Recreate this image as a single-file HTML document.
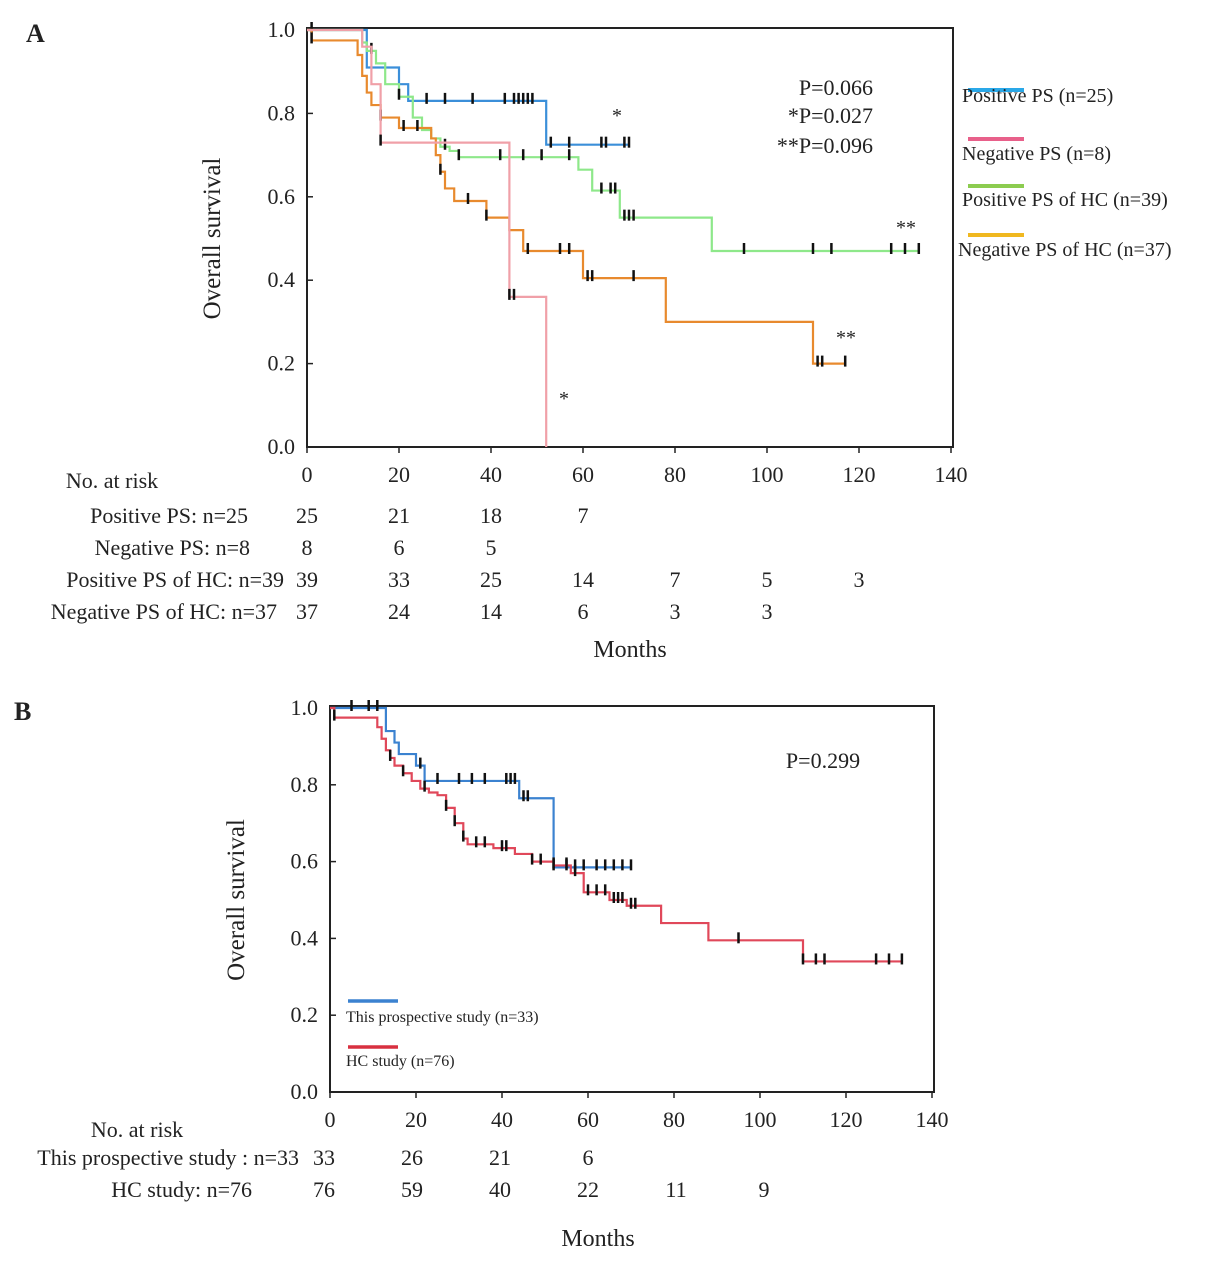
<!DOCTYPE html>
<html><head><meta charset="utf-8"><style>
html,body{margin:0;padding:0;background:#fff;}
svg text{font-family:"Liberation Serif",serif;fill:#222;}
</style></head><body>
<svg id="svg" width="1205" height="1265" viewBox="0 0 1205 1265" xmlns="http://www.w3.org/2000/svg">
<text x="26" y="42" font-size="26" font-weight="bold">A</text>
<text x="14" y="720" font-size="26" font-weight="bold">B</text>
</svg>
<script>
// ---------- Panel A data ----------
const aBlueT=[0,13,20,22,52,70];
const aBlueS=[1,0.91,0.87,0.83,0.725,0.725];
const aBlueC=[26,30,36,43,45,46,47,48,49,53,57,64,65,69,70];
const aPinkT=[0,12,14,16,44,52];
const aPinkS=[1,0.96,0.87,0.73,0.36,0];
const aPinkC=[16,44,45];
const aGreenT=[0,12,13,15,17,20,23,25,27,29,31,33,58,59,62,68,88,133];
const aGreenS=[1,0.97,0.95,0.92,0.87,0.84,0.79,0.76,0.74,0.72,0.71,0.695,0.695,0.665,0.615,0.55,0.47,0.47];
const aGreenC=[1,14,20,30,33,42,47,51,57,64,66,67,69,70,71,95,110,114,127,130,133];
const aOrangeT=[0,1,11,12,13,14,16,20,27,28,29,30,32,39,44,47,60,78,110,117];
const aOrangeS=[1,0.975,0.94,0.89,0.85,0.82,0.79,0.765,0.74,0.70,0.66,0.62,0.59,0.55,0.52,0.47,0.405,0.30,0.20,0.20];
const aOrangeC=[1,16,21,24,29,35,39,48,55,57,61,62,71,111,112,117];
// ---------- Panel B data ----------
const bBlueT=[0,13,15,16,20,22,44,52,70];
const bBlueS=[1,0.94,0.91,0.88,0.85,0.81,0.765,0.585,0.585];
const bBlueC=[5,9,11,21,25,30,33,36,41,42,43,45,46,52,55,57,59,62,64,66,68,70];
const bRedT=[0,1,11,12,13,14,15,17,19,21,23,25,27,29,31,32,38,43,47,52,56,59,65,69,77,88,110,133];
const bRedS=[1,0.975,0.95,0.92,0.89,0.87,0.85,0.83,0.81,0.79,0.78,0.773,0.74,0.70,0.66,0.645,0.635,0.62,0.60,0.59,0.57,0.52,0.50,0.485,0.44,0.395,0.34,0.34];
const bRedC=[1,14,17,22,27,29,31,34,36,40,41,47,49,52,55,57,60,62,64,66,67,68,70,71,95,110,113,115,127,130,133];
const xTicks=[0,20,40,60,80,100,120,140];
const yTicks=[0,0.2,0.4,0.6,0.8,1.0];
const riskA=[[25,21,18,7],[8,6,5],[39,33,25,14,7,5,3],[37,24,14,6,3,3]];
const riskALabels=["Positive PS: n=25","Negative  PS: n=8","Positive PS of HC: n=39","Negative PS of HC: n=37"];
const riskB=[[33,26,21,6],[76,59,40,22,11,9]];
const riskBLabels=["This prospective study : n=33","HC study: n=76"];

const NS="http://www.w3.org/2000/svg";
const svg=document.getElementById('svg');
function el(tag,attrs,parent){const e=document.createElementNS(NS,tag);for(const k in attrs)e.setAttribute(k,attrs[k]);(parent||svg).appendChild(e);return e;}
function txt(x,y,s,size,anchor,name){const t=el('text',{x:x,y:y,'font-size':size,'text-anchor':anchor||'start'});t.textContent=s;


return t;}

function panel(P){
  const X=t=>P.x0+t*(P.x1-P.x0)/140, Y=s=>P.y0-s*(P.y0-P.y1);
  const frame=el('rect',{x:P.x0,y:P.y1-2,width:P.x1-P.x0+2,height:P.y0-P.y1+2,fill:'none',stroke:'#222','stroke-width':2});
  
  
  xTicks.forEach(v=>{const l=el('line',{x1:X(v),x2:X(v),y1:P.y0,y2:P.y0+6,stroke:'#222','stroke-width':1.5});
    
    
    txt(X(v),P.y0+35,String(v),22,'middle',P.id+'-x-tick-label');});
  yTicks.forEach(v=>{const l=el('line',{x1:P.x0,x2:P.x0+6,y1:Y(v),y2:Y(v),stroke:'#222','stroke-width':1.5});
    
    
    txt(P.x0-12,Y(v)+7,v.toFixed(1),22,'end',P.id+'-y-tick-label');});
  const yt=txt(0,0,'Overall survival',25,'middle',P.id+'-y-axis-title');
  yt.setAttribute('transform','translate('+P.yTitleX+','+((P.y0+P.y1)/2)+') rotate(-90)');
  P.series.forEach(S=>{
    let d='M'+X(S.t[0])+','+Y(S.s[0]);
    for(let i=1;i<S.t.length;i++){d+=' H'+X(S.t[i])+' V'+Y(S.s[i]);}
    const p=el('path',{d:d,fill:'none',stroke:S.color,'stroke-width':2.2});
    
    
    S.c.forEach(c=>{let v=S.s[0];for(let i=0;i<S.t.length;i++){if(S.t[i]<=c)v=S.s[i];}
      const m=el('line',{x1:X(c),x2:X(c),y1:Y(v)-8,y2:Y(v)+3,stroke:'#111','stroke-width':2.5});
      
      });
  });
  return {X,Y};
}

const A=panel({id:'panel-a',x0:307,x1:951,y0:447,y1:30,yTitleX:220,series:[
 {name:'positive-ps',t:aBlueT,s:aBlueS,c:aBlueC,color:'#3b8fd9'},
 {name:'positive-ps-hc',t:aGreenT,s:aGreenS,c:aGreenC,color:'#8ee88a'},
 {name:'negative-ps-hc',t:aOrangeT,s:aOrangeS,c:aOrangeC,color:'#e88a2e'},
 {name:'negative-ps',t:aPinkT,s:aPinkS,c:aPinkC,color:'#f0a0a8'}]});
txt(873,95,'P=0.066',22,'end','p-value-overall');
txt(873,123,'*P=0.027',22,'end','p-value-star');
txt(873,153,'**P=0.096',22,'end','p-value-double-star');
txt(617,122,'*',20,'middle','star-positive-ps');
txt(564,405,'*',20,'middle','star-negative-ps');
txt(906,234,'**',20,'middle','star-positive-hc');
txt(846,344,'**',20,'middle','star-negative-hc');
const legA=[['#2aa8e8','Positive PS (n=25)',90,102],['#e8608a','Negative PS (n=8)',139,160],['#8ccc50','Positive PS of HC (n=39)',186,206],['#f0b820','Negative PS of HC (n=37)',235,256]];
legA.forEach((g,i)=>{const l=el('line',{x1:968,x2:1024,y1:g[2],y2:g[2],stroke:g[0],'stroke-width':4});
  
  
  txt(i==3?958:962,g[3],g[1],20,'start','legend-a-entry');});
txt(112,488,'No. at risk',22,'middle','risk-table-a-title');
riskALabels.forEach((s,i)=>{const y=523+i*32;txt(i==1?250:(i==3?277:(i==2?284:248)),y,s,22,'end','risk-a-row-label');
  riskA[i].forEach((v,j)=>txt(307+j*92,y,String(v),22,'middle','risk-a-count'));});
txt(630,657,'Months',24,'middle','panel-a-x-axis-title');

const B=panel({id:'panel-b',x0:330,x1:932,y0:1092,y1:708,yTitleX:244,series:[
 {name:'this-prospective-study',t:bBlueT,s:bBlueS,c:bBlueC,color:'#3b82d0'},
 {name:'hc-study',t:bRedT,s:bRedS,c:bRedC,color:'#e0485a'}]});
txt(823,768,'P=0.299',22,'middle','p-value-b');
[['#3b82d0','This prospective study (n=33)',1001,1022],['#d83040','HC study (n=76)',1047,1066]].forEach(g=>{
  const l=el('line',{x1:348,x2:398,y1:g[2],y2:g[2],stroke:g[0],'stroke-width':3.5});
  
  
  txt(346,g[3],g[1],16,'start','legend-b-entry');});
txt(137,1137,'No. at risk',22,'middle','risk-table-b-title');
riskBLabels.forEach((s,i)=>{const y=1165+i*32;txt(i==0?299:252,y,s,22,'end','risk-b-row-label');
  riskB[i].forEach((v,j)=>txt(324+j*88,y,String(v),22,'middle','risk-b-count'));});
txt(598,1246,'Months',24,'middle','panel-b-x-axis-title');
</script>
</body></html>
